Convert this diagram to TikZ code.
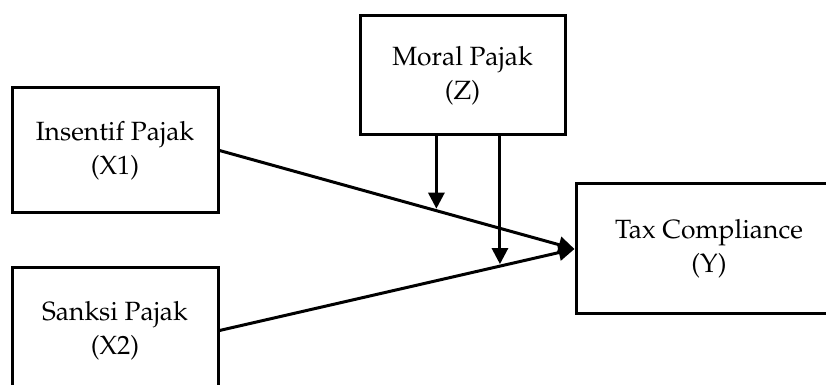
\documentclass[tikz,border=0pt]{standalone}
\usepackage[T1]{fontenc}
\usepackage{mathpazo}
\usetikzlibrary{arrows.meta,calc}
\begin{document}
\begin{tikzpicture}[x=0.5pt,y=-0.5pt,
  box/.style={draw, line width=1.5pt, align=center, inner sep=0pt,
    font=\fontsize{13.2}{17}\selectfont},
  conn/.style={line width=1.5pt, -{Triangle[length=8pt,width=8pt]}}]
\useasboundingbox (0,0) rectangle (826,385);
\clip (0,0) rectangle (826,385);
\node[box, minimum width=103pt, minimum height=62.5pt] (X1) at (115,150.5) {Insentif Pajak\\(X1)};
\node[box, minimum width=103pt, minimum height=62.5pt] (X2) at (115,330.5) {Sanksi Pajak\\(X2)};
\node[box, minimum width=102.5pt, minimum height=59.5pt] (Z) at (462.5,75.5) {Moral Pajak\\(Z)};
\node[box, minimum width=133pt, minimum height=65pt] (Y) at (709,249) {Tax Compliance\\(Y)};
\draw[conn] (X1.east) -- (Y.west);
\draw[conn] (X2.east) -- (Y.west);
\coordinate (m1) at ($(X1.east)!0.611!(Y.west)$);
\coordinate (m2) at ($(X2.east)!0.79!(Y.west)$);
\draw[conn] (Z.south -| m1) -- ($(m1)+(0,-2)$);
\draw[conn] (Z.south -| m2) -- ($(m2)+(0,-2)$);
\end{tikzpicture}
\end{document}
